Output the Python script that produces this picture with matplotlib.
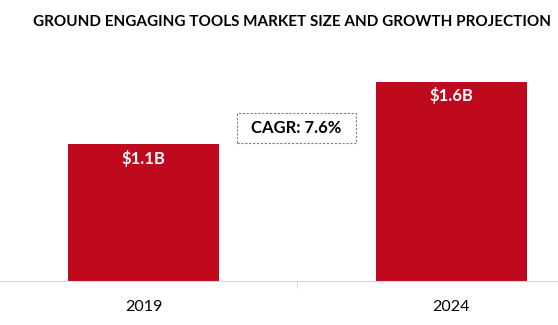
import matplotlib
matplotlib.use("Agg")
import matplotlib.pyplot as plt
from matplotlib.patches import Rectangle

categories = ["2019", "2024"]
values = [1.1, 1.6]
value_labels = ["$1.1B", "$1.6B"]
title = "GROUND ENGAGING TOOLS MARKET SIZE AND GROWTH PROJECTION"
cagr_text = "CAGR: 7.6%"

plt.rcParams['font.family'] = ['Lato', 'DejaVu Sans']

W, H = 558, 325
fig = plt.figure(figsize=(W/100, H/100), dpi=100)
left_px, right_px = -10, 605
top_px, bottom_px = 40, 281
ax = fig.add_axes([left_px/W, 1 - bottom_px/H, (right_px-left_px)/W, (bottom_px-top_px)/H])
ax.set_xlim(-0.5, 1.5)
ax.set_ylim(0, 1.94)
x = range(len(categories))
ax.bar(x, values, width=0.49, color="#BF0A1E")
for xi, v, lab in zip(x, values, value_labels):
    ax.text(xi, v - 0.11, lab, ha="center", va="center", color="white",
            fontsize=12, fontweight="bold")
for s in ["top", "left", "right"]:
    ax.spines[s].set_visible(False)
ax.spines["bottom"].set_color("#D9D9D9")
ax.set_yticks([])
ax.set_xticks([0.5])
ax.set_xticklabels([""])
ax.tick_params(axis="x", which="major", length=5, color="#D9D9D9")
ax.set_xticks([0, 1], labels=categories, minor=True)
ax.tick_params(axis="x", which="minor", length=0, pad=14, labelsize=11.5)

# title, fitted to the reference width
t = fig.text(33/W, 1 - 22/H, title, ha="left", va="center", fontsize=12,
             fontweight="bold", color="black")
fig.canvas.draw()
w = t.get_window_extent().width
t.set_fontsize(12 * 515 / w)

# CAGR box
bx0, by0, bx1, by1 = 237, 113, 356, 143
fig.patches.append(Rectangle((bx0/W, 1 - by1/H), (bx1-bx0)/W, (by1-by0)/H,
                             transform=fig.transFigure, fc="white", ec="#7F7F7F",
                             ls=(0, (2, 1.5)), lw=0.8))
fig.text((bx0+bx1)/2/W, 1 - 128/H, cagr_text, ha="center", va="center",
         fontsize=12, fontweight="bold", color="black")

fig.savefig("out.png", dpi=100)
